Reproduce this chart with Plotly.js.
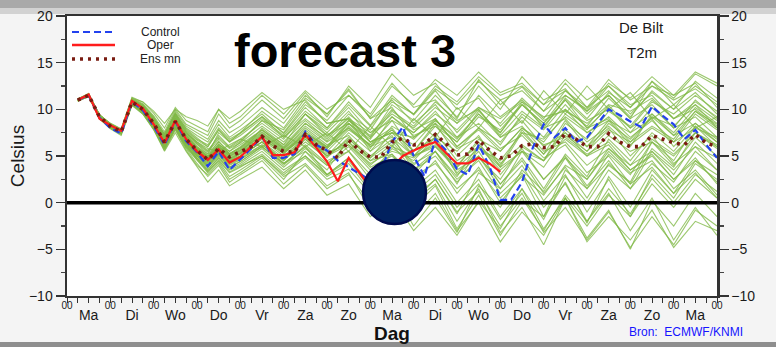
<!DOCTYPE html>
<html>
<head>
<meta charset="utf-8">
<script src="https://cdn.plot.ly/plotly-3.0.1.min.js"></script>
<style>
html,body{margin:0;padding:0;background:#f3f3f3;}
#chart{width:776px;height:347px;}
</style>
</head>
<body>
<div id="chart"></div>
<script>
// ---------------- DATA ----------------
const dayNames = ["Ma","Di","Wo","Do","Vr","Za","Zo","Ma","Di","Wo","Do","Vr","Za","Zo","Ma"];
const dayMid = [12,36,60,84,108,132,156,180,204,228,252,276,300,324,348];
const dayStart = [0,24,48,72,96,120,144,168,192,216,240,264,288,312,336,360];
const dayStartText = ["00","00","00","00","00","00","00","00","00","00","00","00","00","00","00","00"];

// 6-hourly lead times (hours) for control and ensemble mean
const hours6 = [6,12,18,24,30,36,42,48,54,60,66,72,78,84,90,96,102,108,114,120,
  126,132,138,144,150,156,162,168,174,180,186,192,198,204,210,216,222,228,234,240,
  246,252,258,264,270,276,282,288,294,300,306,312,318,324,330,336,342,348,354,360];
// operational run lead times (to 240 h)
const hoursOper = [6,12,18,24,30,36,42,48,54,60,66,72,78,84,90,96,102,108,114,120,
  126,132,138,144,150,156,162,168,174,180,186,192,198,204,210,216,222,228,234,240];
// ensemble member lead times
const hoursMember = [6,12,18,24,30,36,42,48,54,60,66,72,78,84,90,96,
  108,120,132,144,156,168,180,192,204,216,228,240,252,264,276,288,300,312,324,336,348,360];

const control = [11.0,11.5,9.1,8.0,7.4,10.8,9.9,8.2,6.2,8.7,
  6.6,5.4,3.9,5.5,3.5,4.6,5.8,7.1,4.8,4.8,
  5.2,7.6,6.2,5.6,4.5,3.8,3.1,2.4,3.5,6.5,
  8.1,5.0,2.8,6.8,5.6,3.6,3.0,6.2,3.9,0.3,
  0.3,2.2,5.9,8.4,7.0,8.0,6.5,7.0,8.5,10.0,
  9.4,8.7,8.1,10.3,9.3,8.4,6.8,7.8,6.2,4.8];

const oper = [11.0,11.6,9.0,8.3,7.7,10.9,10.1,8.4,6.4,8.8,
  6.8,5.5,4.6,5.7,4.3,4.9,6.0,7.1,5.1,5.1,
  5.4,7.3,5.9,4.4,2.3,4.8,3.2,1.6,2.8,3.8,
  5.0,5.6,6.1,6.5,5.3,4.2,4.2,4.8,4.2,3.3];

const ensMean = [11.0,11.5,9.2,8.2,7.6,10.8,10.0,8.5,6.5,8.7,
  6.8,5.6,4.6,5.8,4.9,5.4,6.0,7.1,6.1,5.5,
  5.4,7.3,6.2,5.6,4.8,6.7,5.6,4.9,4.9,6.5,
  6.9,6.2,6.3,7.3,6.3,5.1,5.2,6.7,5.6,4.8,
  5.0,6.1,6.3,5.9,6.0,7.4,6.8,6.0,6.0,7.4,
  6.5,6.0,6.0,7.2,6.8,6.4,6.2,7.3,6.4,6.0];

const m01 = [11.1,11.6,9.4,8.4,7.8,11.0,10.4,9.0,7.4,9.6,8.0,7.2,6.5,8.4,7.0,7.8, 9.5,7.4,10.2,8.0,10.8,8.3,11.5,9.4,12.0,9.0,13.2,10.5,12.4,9.8,12.8,10.2,12.0,9.5,11.8,10.0,13.0,11.2];
const m02 = [10.9,11.4,9.0,8.0,7.4,10.6,9.6,8.0,5.8,8.0,5.9,4.5,3.2,4.4,2.8,3.5, 5.0,3.0,4.8,2.5,3.6,1.0,2.8,0.5,2.5,-1.0,1.2,-2.5,0.5,-3.0,0.8,-2.0,1.5,-1.2,2.6,0.0,3.0,1.2];
const m03 = [11.0,11.5,9.3,8.3,7.7,10.9,10.1,8.6,6.8,9.0,7.2,6.0,5.0,6.6,5.2,6.0, 7.8,6.0,8.2,6.5,8.0,5.8,9.2,7.5,9.8,7.0,8.5,6.2,9.5,7.8,10.5,8.0,9.0,6.5,8.2,6.8,9.8,8.4];
const m04 = [11.0,11.4,9.1,8.1,7.5,10.7,9.8,8.2,6.2,8.4,6.4,5.0,4.0,5.2,3.8,4.4, 6.0,4.2,5.5,3.0,4.5,1.5,3.8,0.2,2.0,-2.0,1.5,-3.2,-0.5,-4.5,0.5,-3.8,-0.8,-5.0,0.2,-2.5,1.0,-1.5];
const m05 = [11.1,11.6,9.3,8.3,7.7,11.1,10.5,9.2,7.3,9.8,8.2,7.5,6.8,8.8,7.5,8.2, 10.2,8.5,11.5,9.5,12.2,9.0,11.0,8.5,10.5,7.5,10.0,7.2,9.8,8.0,11.2,9.0,11.8,10.2,12.5,11.0,12.2,10.5];
const m06 = [10.9,11.5,9.2,8.2,7.6,10.7,9.9,8.3,6.3,8.5,6.6,5.2,4.2,5.5,4.4,5.0, 6.5,4.5,6.8,5.0,7.5,5.5,8.2,6.8,9.0,6.0,7.8,5.5,8.0,6.5,9.5,7.8,10.4,8.0,9.5,7.2,8.5,6.8];
const m07 = [11.0,11.5,9.2,8.1,7.5,10.6,9.7,8.1,6.0,8.2,6.2,4.8,3.6,4.8,3.5,4.0, 5.5,3.5,5.0,2.8,4.2,1.2,3.0,-0.5,1.8,-2.8,0.8,-3.5,0.2,-1.5,3.5,1.5,5.2,3.0,6.5,4.0,7.0,5.0];
const m08 = [11.0,11.6,9.3,8.3,7.7,10.9,10.2,8.7,6.9,9.2,7.5,6.4,5.5,7.2,6.0,6.8, 8.5,6.8,9.5,7.5,9.8,7.0,10.5,8.8,11.5,9.2,12.5,10.0,13.5,11.0,12.2,9.5,11.5,9.0,13.0,10.5,12.5,10.8];
const m09 = [11.0,11.5,9.1,8.1,7.5,10.8,10.0,8.4,6.4,8.6,6.7,5.4,4.4,5.6,4.6,5.2, 6.8,5.0,7.0,5.2,6.5,4.0,6.0,5.0,7.5,4.5,6.0,3.5,5.5,4.5,6.8,5.0,7.2,5.5,6.5,5.0,7.5,5.8];
const m10 = [11.0,11.5,9.2,8.2,7.6,10.8,10.1,8.6,6.6,8.9,7.0,5.8,4.8,6.0,5.2,5.8, 7.5,5.8,7.8,6.0,8.5,6.5,7.5,7.0,8.8,6.8,9.5,7.0,8.2,5.5,6.5,4.0,5.8,3.5,5.0,2.5,4.5,3.0];
const m11 = [10.9,11.4,9.1,8.1,7.5,10.7,9.9,8.3,6.2,8.3,6.3,5.0,3.8,5.0,3.8,4.4, 6.0,4.0,6.2,4.2,6.0,3.5,5.2,3.0,5.5,2.5,4.5,1.0,3.2,-0.5,2.0,-2.0,1.0,-3.0,0.5,-4.0,-0.5,-3.5];
const m12 = [11.0,11.5,9.3,8.3,7.7,10.8,10.0,8.5,6.5,8.8,6.9,5.6,4.6,5.9,4.9,5.5, 7.2,5.5,7.5,5.8,8.2,6.0,7.0,5.0,6.2,3.8,5.8,4.5,7.5,6.8,9.2,7.5,8.8,6.2,8.0,6.5,9.5,7.8];
const m13 = [11.1,11.7,9.4,8.4,7.8,11.2,10.6,9.3,7.6,10.0,8.4,7.8,7.2,9.5,8.0,8.8, 11.0,9.0,11.8,9.2,12.5,10.2,13.8,11.5,12.8,10.0,11.2,8.2,10.5,8.5,11.0,8.8,10.0,8.0,10.8,9.5,11.5,9.8];
const m14 = [11.0,11.5,9.2,8.2,7.6,10.8,9.9,8.4,6.4,8.6,6.8,5.5,4.5,5.7,4.7,5.3, 6.9,5.3,7.2,5.4,6.2,4.2,5.5,4.8,6.5,3.2,5.5,2.0,4.8,1.5,5.2,2.8,6.8,4.5,7.5,5.5,8.2,6.5];
const m15 = [10.9,11.4,9.0,8.0,7.3,10.5,9.6,7.9,5.6,7.8,5.8,4.2,2.8,4.0,2.2,3.0, 4.5,2.0,4.0,1.5,3.0,0.0,2.0,-1.5,1.0,-3.0,0.0,-4.2,-1.0,-3.5,0.5,-2.5,0.8,-1.5,2.0,-0.5,2.5,0.5];
const m16 = [11.0,11.5,9.2,8.2,7.6,10.9,10.1,8.7,6.8,9.1,7.1,5.9,5.0,6.3,5.2,5.9, 7.8,5.9,8.5,6.6,8.8,7.2,10.0,7.8,9.0,6.0,8.0,6.5,9.2,7.0,10.0,8.2,11.2,9.0,10.5,8.0,9.2,7.0];
const m17 = [11.0,11.5,9.2,8.2,7.6,10.7,9.9,8.3,6.3,8.4,6.5,5.2,4.1,5.3,4.2,4.8, 6.2,4.6,6.5,4.8,7.0,5.0,6.8,4.2,5.5,2.8,6.2,4.0,7.8,5.2,7.5,5.0,6.2,3.5,5.2,2.5,4.8,2.0];
const m18 = [11.1,11.6,9.4,8.4,7.8,11.0,10.3,8.9,7.1,9.4,7.7,6.7,6.0,7.8,6.5,7.2, 9.0,7.2,9.8,8.0,10.5,8.2,10.8,9.5,12.2,10.5,13.0,11.0,12.0,9.8,11.5,10.0,12.8,11.2,13.5,11.5,12.8,10.2];
const m19 = [11.0,11.5,9.2,8.2,7.6,10.8,10.0,8.5,6.6,8.8,6.9,5.7,4.7,6.0,5.0,5.6, 7.2,5.4,7.0,5.0,6.2,3.8,5.0,2.8,4.2,1.5,3.5,0.5,2.8,0.8,4.0,2.5,5.8,4.0,6.8,5.2,7.5,6.2];
const m20 = [11.0,11.5,9.2,8.2,7.5,10.7,9.8,8.2,6.1,8.2,6.3,5.0,3.9,5.1,4.0,4.6, 6.2,4.5,7.2,5.8,8.0,6.2,7.8,5.5,8.5,6.5,9.8,7.5,10.8,8.0,9.0,6.5,8.2,6.0,9.5,7.5,10.2,8.5];
const m21 = [11.0,11.5,9.2,8.2,7.6,10.9,10.2,8.8,6.9,9.3,7.5,6.3,5.4,6.8,5.8,6.4, 8.2,6.5,8.8,6.8,9.2,6.5,8.0,5.0,7.0,4.0,6.5,3.0,5.8,2.5,5.0,1.8,4.5,1.5,5.5,3.0,6.5,4.2];
const m22 = [10.9,11.4,9.1,8.0,7.4,10.6,9.7,8.1,6.0,8.1,6.1,4.7,3.4,4.5,3.2,3.8, 5.2,3.2,5.0,3.0,4.8,2.0,4.0,1.5,3.5,0.0,2.5,-1.5,1.5,-2.8,0.5,-4.2,-1.5,-4.0,-0.8,-4.8,-2.0,-3.0];
const m23 = [11.0,11.5,9.3,8.3,7.7,11.0,10.3,8.8,7.0,9.5,7.6,6.5,5.6,7.0,5.9,6.6, 8.8,7.0,9.5,7.2,9.0,7.5,9.5,8.0,10.2,8.5,11.5,9.2,11.0,8.8,10.0,7.5,9.2,7.0,8.8,6.5,8.0,7.0];
const m24 = [11.0,11.5,9.2,8.2,7.6,10.8,10.0,8.5,6.5,8.7,6.8,5.6,4.6,5.8,4.8,5.4, 7.0,5.2,7.5,6.0,8.8,7.0,9.2,7.2,8.2,5.8,7.0,4.2,6.2,4.5,7.8,6.0,8.8,7.5,10.2,8.0,11.0,9.0];
const m25 = [11.1,11.7,9.4,8.5,7.9,11.3,10.8,9.6,8.0,10.2,8.8,8.2,7.6,10.0,8.5,9.2, 11.5,9.5,12.0,10.0,11.5,9.2,12.5,10.5,13.2,11.5,14.0,11.8,12.8,10.5,13.2,11.0,12.5,10.2,13.0,11.2,13.8,12.5];
const m26 = [11.0,11.5,9.1,8.1,7.5,10.7,9.8,8.2,6.2,8.3,6.4,5.1,4.0,5.2,4.1,4.7, 6.0,4.2,6.0,4.0,5.5,3.0,5.8,4.5,7.0,5.5,8.0,5.8,7.2,4.8,6.2,3.2,5.0,2.0,3.8,1.0,3.2,0.5];
const m27 = [11.0,11.5,9.2,8.2,7.6,10.8,10.1,8.6,6.7,9.0,7.1,5.9,4.9,6.2,5.3,5.9, 7.6,5.8,8.0,6.2,7.2,4.5,6.2,3.5,5.0,2.2,4.8,2.5,6.0,4.5,8.5,6.8,9.8,8.2,11.0,9.0,10.5,8.0];
const m28 = [10.9,11.4,9.0,8.0,7.4,10.6,9.7,8.0,5.9,8.0,6.0,4.6,3.3,4.6,3.3,3.9, 5.0,2.8,4.2,1.8,3.2,-0.8,1.5,-2.5,0.5,-3.2,1.8,-0.5,3.5,1.2,4.8,2.5,5.5,3.2,4.5,1.5,3.5,0.8];
const m29 = [11.0,11.5,9.2,8.2,7.6,10.8,10.0,8.4,6.5,8.6,6.8,5.5,4.5,5.8,4.7,5.3, 6.9,5.4,7.4,5.5,7.8,6.2,8.8,7.5,9.5,7.8,10.2,8.5,11.2,9.0,12.0,9.8,11.5,9.2,12.0,10.0,11.8,9.5];
const m30 = [11.0,11.5,9.2,8.2,7.6,10.8,10.0,8.6,6.6,8.8,6.9,5.7,4.8,6.0,5.0,5.6, 7.3,5.6,7.2,5.0,6.8,4.8,6.5,4.0,6.0,3.8,6.8,5.5,8.0,6.2,7.0,5.2,6.5,4.0,5.5,3.5,6.0,4.8];
const m31 = [11.0,11.6,9.4,8.5,7.9,11.2,10.8,9.8,8.5,10.0,9.2,8.8,8.2,10.0,9.0,9.8, 11.8,10.0,11.0,8.5,9.0,6.5,7.5,5.0,6.0,3.5,5.0,2.0,4.5,1.0,3.8,0.5,4.2,2.0,5.8,3.8,7.5,6.0];
const m32 = [11.0,11.5,9.2,8.3,7.7,10.7,10.1,8.8,7.0,8.5,7.4,6.5,5.8,5.5,6.2,6.8, 6.0,7.2,6.0,7.5,5.5,8.2,6.0,9.0,7.0,10.2,8.0,11.0,8.5,12.0,9.5,12.5,10.0,11.8,9.0,10.5,8.0,9.2];
const m33 = [10.9,11.4,9.0,7.9,7.2,10.4,9.5,7.8,5.5,7.5,5.5,3.8,2.2,3.5,1.8,2.5, 3.8,1.5,3.5,0.8,2.0,-1.5,0.5,-3.0,-0.5,-3.5,0.2,-2.8,1.5,-1.8,2.8,0.0,3.5,1.5,4.2,2.2,5.5,3.5];
const m34 = [11.1,11.6,9.3,8.4,7.8,11.0,10.4,9.1,7.2,9.5,7.8,6.8,6.2,8.0,6.8,7.5, 9.2,7.5,10.5,8.8,11.5,9.5,12.8,10.2,11.0,8.5,10.2,9.0,10.8,9.2,9.8,8.5,10.5,9.8,11.2,9.0,10.0,8.2];
const m35 = [11.0,11.5,9.2,8.2,7.5,10.6,9.8,8.1,6.0,8.0,6.0,4.8,3.8,5.5,4.5,5.2, 8.0,6.2,9.5,7.8,10.2,7.5,8.8,5.5,7.0,3.0,5.0,1.5,4.0,0.2,3.0,-1.0,2.5,-1.5,3.0,0.5,4.2,2.5];
const m36 = [11.0,11.5,9.3,8.3,7.7,10.9,10.2,8.7,6.8,9.0,7.2,6.0,5.2,6.5,5.5,6.2, 7.8,6.2,8.5,7.0,9.5,7.8,11.2,9.5,12.5,10.8,13.5,11.5,12.5,10.5,12.0,10.2,13.2,11.0,12.5,11.5,14.0,12.8];
const m37 = [11.0,11.5,9.1,8.1,7.5,10.7,9.9,8.3,6.4,8.5,6.5,5.3,4.3,5.5,4.4,5.0, 6.5,4.8,6.8,4.5,5.5,2.5,4.2,1.0,3.0,-0.5,2.0,-1.8,1.0,-3.2,-0.5,-4.0,-1.0,-4.8,-1.5,-4.5,-0.8,-2.5];
const m38 = [11.0,11.5,9.2,8.2,7.6,10.8,10.0,8.5,6.6,8.9,7.0,5.8,4.9,6.2,5.5,6.5, 8.8,7.8,10.8,8.5,9.0,5.5,7.2,3.5,5.5,2.0,6.0,3.8,7.5,5.2,8.8,6.0,8.0,5.0,7.2,4.2,6.0,3.5];
const m39 = [10.9,11.5,9.1,8.0,7.4,10.6,9.6,7.9,5.7,7.9,5.6,4.0,3.0,4.2,2.5,3.2, 4.8,2.5,5.5,3.5,6.8,4.8,7.5,6.2,8.8,7.0,9.5,7.5,10.5,8.2,11.0,8.0,10.2,7.5,9.0,6.0,8.5,6.5];
const m40 = [11.0,11.6,9.3,8.3,7.7,11.0,10.3,8.9,7.0,9.3,7.3,6.2,5.2,7.5,6.5,7.5, 9.8,8.0,11.2,9.5,12.0,9.0,10.2,7.0,8.5,5.0,7.2,3.8,5.5,2.5,4.8,1.5,4.0,2.2,6.5,4.5,8.2,6.0];
const m41 = [11.0,11.5,9.2,8.2,7.6,10.8,10.0,8.4,6.4,8.6,6.7,5.5,4.4,5.6,4.5,5.0, 6.5,4.2,6.0,3.0,4.8,1.8,3.5,0.2,2.5,-1.2,3.2,1.5,5.5,3.8,7.2,5.5,8.5,6.8,9.2,7.2,9.8,8.0];
const m42 = [11.0,11.5,9.2,8.2,7.6,10.8,10.0,8.5,6.5,8.7,6.9,5.7,4.8,6.1,5.1,5.7, 7.4,5.7,7.6,5.9,8.5,6.8,9.8,8.2,10.8,8.8,10.0,7.0,8.8,6.0,7.5,5.5,7.8,6.5,9.2,8.2,10.5,8.8];
const m43 = [10.9,11.4,9.0,8.0,7.4,10.5,9.5,7.9,5.8,8.2,6.2,4.6,3.5,4.8,3.6,4.2, 5.8,3.8,5.8,4.0,6.5,4.5,5.2,2.2,4.5,1.0,3.8,0.0,3.0,-1.5,2.2,-2.2,2.8,-0.5,3.5,1.0,4.5,2.2];
const m44 = [11.1,11.6,9.4,8.4,7.8,11.1,10.5,9.1,7.3,9.6,7.9,6.9,6.0,7.8,6.6,7.4, 9.2,7.0,9.0,7.2,8.5,6.0,7.8,5.5,8.2,6.5,9.2,7.8,10.5,8.5,11.5,9.8,12.5,10.5,11.5,9.0,10.8,9.2];

const members = [m01,m02,m03,m04,m05,m06,m07,m08,m09,m10,m11,m12,m13,m14,m15,
                 m16,m17,m18,m19,m20,m21,m22,m23,m24,m25,m26,m27,m28,m29,m30,
                 m31,m32,m33,m34,m35,m36,m37,m38,m39,m40,m41,m42,m43,m44];

const legendLabels = ["Control","Oper","Ens mn"];

// ---------------- CHART ----------------
const FONT = "Liberation Sans, Arial, Helvetica, sans-serif";
const GREEN = "rgba(128,185,70,0.78)";
const BLUE = "#2342ee";
const RED = "#ff1c1c";
const DARKRED = "#7a1c12";

const traces = [];
members.forEach(function(m){
  traces.push({x: hoursMember, y: m, type:"scatter", mode:"lines",
    line:{color:GREEN, width:1.1}, hoverinfo:"skip", showlegend:false});
});
traces.push({x: hours6, y: control, type:"scatter", mode:"lines", name:legendLabels[0],
  line:{color:BLUE, width:2.2, dash:"7px,4px"}, showlegend:false});
traces.push({x: hoursOper, y: oper, type:"scatter", mode:"lines", name:legendLabels[1],
  line:{color:RED, width:2.2}, showlegend:false});
traces.push({x: hours6, y: ensMean, type:"scatter", mode:"lines", name:legendLabels[2],
  xaxis:"x2", yaxis:"y2",
  line:{color:DARKRED, width:3.6, dash:"3px,5px"}, showlegend:false});

// pixel -> paper helpers for decorations
const plotH = 280, plotW = 650, mL = 67, mT = 16;
function py(pix){ return (mT + plotH - pix) / plotH; }
function px(pix){ return (pix - mL) / plotW; }

const legendStyles = [
  {color:BLUE, width:2.2, dash:"7px,4px"},
  {color:RED, width:2.4, dash:"solid"},
  {color:DARKRED, width:3.6, dash:"3px,5px"}
];
const legendRows = [32, 45, 59];

const shapes = [
  {type:"rect", xref:"paper", yref:"paper", x0:px(0), x1:px(776), y0:py(14), y1:py(0),
   fillcolor:"#d2d2d2", line:{width:0}, layer:"below"},
  {type:"rect", xref:"paper", yref:"paper", x0:px(0), x1:px(776), y0:py(8), y1:py(0),
   fillcolor:"#a9a9a9", line:{width:0}, layer:"below"},
  {type:"rect", xref:"paper", yref:"paper", x0:px(0), x1:px(776), y0:py(347), y1:py(342),
   fillcolor:"#8e8e8e", line:{width:0}, layer:"below"},
  {type:"line", xref:"paper", x0:0, x1:1, yref:"y", y0:0, y1:0,
   line:{color:"#000000", width:3.5}, layer:"above"},
  {type:"circle", xref:"paper", yref:"paper",
   x0:px(363), x1:px(426), y0:py(224), y1:py(160),
   fillcolor:"#01215f", line:{color:"#000b4e", width:2.5}, layer:"above"}
];
legendRows.forEach(function(r,i){
  shapes.push({type:"line", xref:"paper", yref:"paper", x0:px(72), x1:px(115), y0:py(r), y1:py(r),
    line:legendStyles[i], layer:"above"});
});

const annotations = [];
legendRows.forEach(function(r,i){
  annotations.push({xref:"paper", yref:"paper", x:px(160), y:py(r), text:legendLabels[i],
    showarrow:false, xanchor:"center", yanchor:"middle",
    font:{family:FONT, size:12, color:"#222"}});
});
annotations.push({xref:"paper", yref:"paper", x:px(345), y:py(50), text:"<b>forecast 3</b>",
  showarrow:false, xanchor:"center", yanchor:"middle", font:{family:FONT, size:47, color:"#000"}});
annotations.push({xref:"paper", yref:"paper", x:px(641), y:py(28), text:"De Bilt",
  showarrow:false, xanchor:"center", yanchor:"middle", font:{family:FONT, size:15, color:"#1a1a1a"}});
annotations.push({xref:"paper", yref:"paper", x:px(642), y:py(53), text:"T2m",
  showarrow:false, xanchor:"center", yanchor:"middle", font:{family:FONT, size:15, color:"#1a1a1a"}});
annotations.push({xref:"paper", yref:"paper", x:px(686), y:py(332), text:"Bron:  ECMWF/KNMI",
  showarrow:false, xanchor:"center", yanchor:"middle", font:{family:FONT, size:12, color:"#1515ff"}});

const yCommon = {
  range:[-10,20], tickmode:"linear", tick0:0, dtick:5, ticks:"outside", ticklen:9, tickwidth:1.5,
  tickcolor:"#333", showline:true, linecolor:"#333", linewidth:2.5, showgrid:false, zeroline:false,
  tickfont:{family:FONT, size:14, color:"#1a1a1a"},
  minor:{dtick:2.5, tick0:0, ticks:"outside", ticklen:4, tickcolor:"#444", showgrid:false}
};

const layout = {
  width:776, height:347,
  margin:{l:67, r:59, t:16, b:51, pad:0},
  paper_bgcolor:"#f4f4f4", plot_bgcolor:"#ffffff",
  showlegend:false,
  font:{family:FONT},
  xaxis:{
    range:[0,360], tickmode:"array", tickvals:dayMid, ticktext:dayNames,
    ticks:"outside", ticklen:5, tickwidth:1, tickcolor:"#333",
    showline:true, linecolor:"#333", linewidth:2, mirror:true,
    showgrid:false, zeroline:false,
    tickfont:{family:FONT, size:14, color:"#1a1a1a"},
    minor:{dtick:6, tick0:0, ticks:"outside", ticklen:5, tickcolor:"#333", showgrid:false},
    title:{text:"<b>Dag</b>", font:{family:FONT, size:19, color:"#111"}, standoff:0}
  },
  xaxis2:{
    range:[0,360], overlaying:"x", anchor:"y2", side:"bottom",
    tickmode:"array", tickvals:dayStart, ticktext:dayStartText,
    ticks:"", showline:false, showgrid:false, zeroline:false,
    tickfont:{family:FONT, size:10, color:"#1a1a1a"}, ticklabelstandoff:2
  },
  yaxis:Object.assign({}, yCommon, {
    title:{text:"Celsius", font:{family:FONT, size:19, color:"#1a1a1a"}, standoff:0}
  }),
  yaxis2:Object.assign({}, yCommon, {overlaying:"y", side:"right", anchor:"x2"}),
  shapes:shapes,
  annotations:annotations
};

Plotly.newPlot("chart", traces, layout, {displayModeBar:false, staticPlot:true});
</script>
</body>
</html>
